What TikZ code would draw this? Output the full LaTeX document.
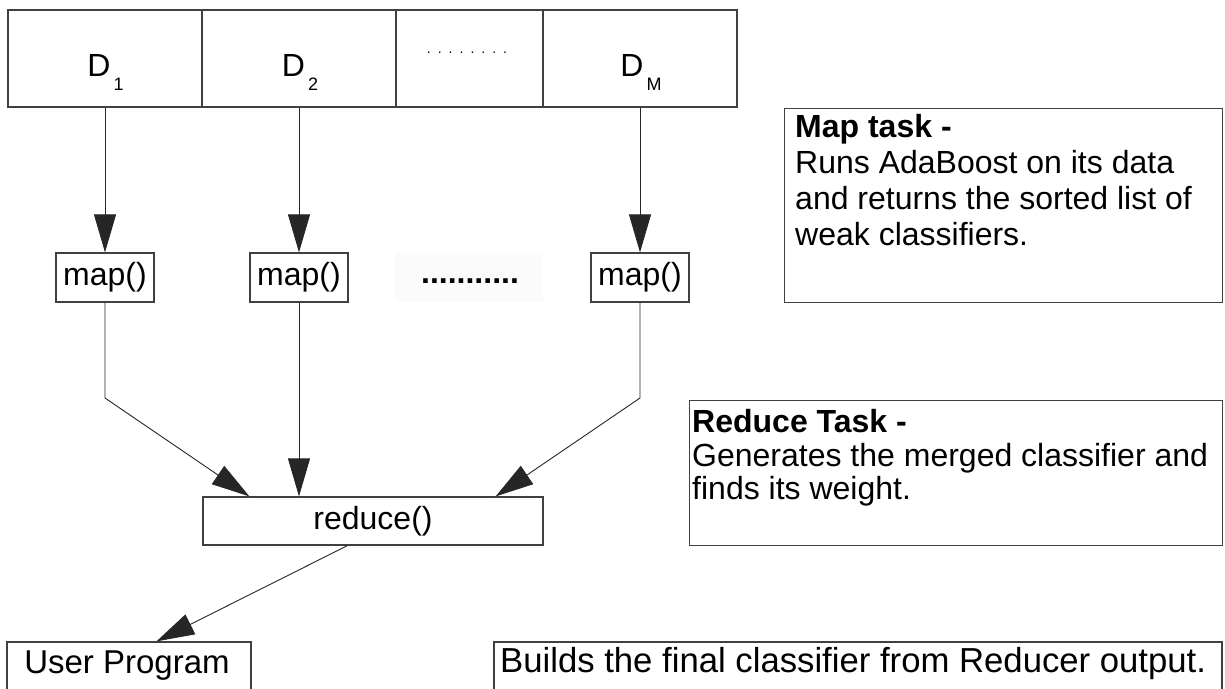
\documentclass[tikz,border=0pt]{standalone}
\usepackage{fontspec}
\setmainfont{Liberation Sans}
\usetikzlibrary{arrows.meta,calc}
\begin{document}
\begin{tikzpicture}[x=1pt,y=-1pt,
  box/.style={draw=black!75, line width=1.2pt, inner sep=0pt},
  lbl/.style={inner sep=0pt, font=\fontsize{32}{36}\selectfont},
  conn/.style={draw=black!85, line width=0.9pt, -{Triangle[length=38pt,width=22pt]}}]
\clip (0,0) rectangle (1225,688);
\fill[white] (0,0) rectangle (1225,688);

% data partitions
\node[box, minimum width=194pt, minimum height=97pt] (d1) at (105,58.5) {};
\node[box, minimum width=194pt, minimum height=97pt] (d2) at (299,58.5) {};
\node[box, minimum width=147pt, minimum height=97pt] (d3) at (469.5,58.5) {};
\node[box, minimum width=194pt, minimum height=97pt] (dm) at (640,58.5) {};
\node[lbl, anchor=base] (t1) at (105.5,76) {D\kern3pt\raisebox{-14pt}{\fontsize{18}{18}\selectfont 1}};
\node[lbl, anchor=base] (t2) at (300,76) {D\kern3pt\raisebox{-14pt}{\fontsize{18}{18}\selectfont 2}};
\node[lbl, anchor=base] (tm) at (641,76) {D\kern3pt\raisebox{-14pt}{\fontsize{18}{18}\selectfont M}};
\node[inner sep=0pt, font=\fontsize{14}{14}\selectfont, anchor=base] (sd) at (467,53)
  {.\kern7pt.\kern7pt.\kern7pt.\kern7pt.\kern7pt.\kern7pt.\kern7pt.};

% map nodes
\node[box, lbl, minimum width=98pt, minimum height=49pt] (m1) at (105,277.5) {map()};
\node[box, lbl, minimum width=98pt, minimum height=49pt] (m2) at (299,277.5) {map()};
\node[box, lbl, minimum width=98pt, minimum height=49pt] (m3) at (640,277.5) {map()};
\node[fill=black!1.5, inner sep=0pt, minimum width=148pt, minimum height=50pt] (fr) at (469,277) {};
\node[inner sep=0pt, font=\bfseries\fontsize{32}{36}\selectfont, anchor=base] (bd) at (470,283) {...........};

% reduce
\node[box, lbl, minimum width=340pt, minimum height=48pt] (r) at (373,521) {reduce()};

% user program
\node[box, minimum width=244pt, minimum height=60pt] (u) at (129,672) {};
\node[inner sep=0pt, font=\fontsize{33}{36}\selectfont, anchor=base] (ut) at (127,673) {User Program};

% builds
\node[box, minimum width=728pt, minimum height=60pt] (b) at (858,672) {};
\node[inner sep=0pt, font=\fontsize{34.7}{36}\selectfont, anchor=base west] (bt) at (500,672) {Builds the final classifier from Reducer output.};

% map task
\node[box, anchor=north west, minimum width=438pt, minimum height=194pt] (mt) at (784,108) {};
\node[lbl, anchor=base west] (mt1) at (795,137) {\textbf{Map task -}};
\node[lbl, anchor=base west] (mt2) at (795,173) {Runs AdaBoost on its data};
\node[lbl, anchor=base west] (mt3) at (795,209) {and returns the sorted list of};
\node[lbl, anchor=base west] (mt4) at (795,245) {weak classifiers.};

% reduce task
\node[box, anchor=north west, minimum width=533pt, minimum height=145pt] (rt) at (689,400) {};
\node[lbl, anchor=base west] (rt1) at (692,432) {\textbf{Reduce Task -}};
\node[lbl, anchor=base west] (rt2) at (692,466) {Generates the merged classifier and};
\node[lbl, anchor=base west] (rt3) at (692,499) {finds its weight.};

% connectors
\draw[conn] (d1.south) -- (m1.north);
\draw[conn] (d2.south) -- (m2.north);
\draw[conn] (dm.south) -- (m3.north);
\coordinate (k1) at (105,398);
\coordinate (k3) at (640,398);
\draw[conn] (m1.south) -- (k1) -- ($(r.north west)+(47,0)$);
\draw[conn] (m2.south) -- (m2.south |- r.north);
\draw[conn] (m3.south) -- (k3) -- ($(r.north east)+(-48,0)$);
\draw[conn] ($(r.south west)+(145,0)$) -- ($(u.north west)+(150,0)$);
\end{tikzpicture}
\end{document}
